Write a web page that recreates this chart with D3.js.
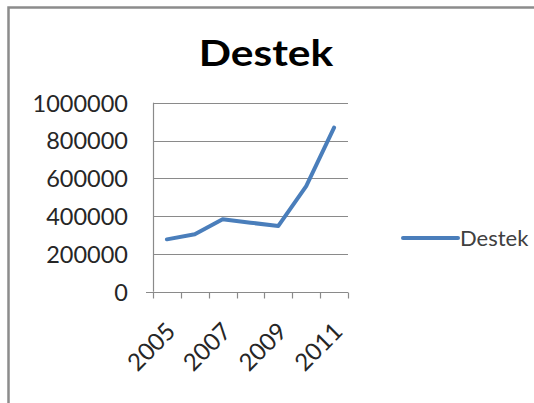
<!DOCTYPE html>
<html>
<head>
<meta charset="utf-8">
<script src="https://cdn.jsdelivr.net/npm/d3@7"></script>
<style>
  body { margin: 0; background: #fff; }
  svg { display: block; font-family: Lato, "Open Sans", sans-serif; }
</style>
</head>
<body>
<div id="chart"></div>
<script>
// Chart data
const years = ["2005", "2006", "2007", "2008", "2009", "2010", "2011"]
const destek = [277000, 304000, 383000, 365000, 348000, 559000, 868000]
const yTicks = [0, 200000, 400000, 600000, 800000, 1000000]
const xLabels = ["2005", "2007", "2009", "2011"]

const width = 534
const height = 403

const svg = d3.select("#chart")
    .append("svg")
    .attr("width", width)
    .attr("height", height)

// Frame (only top and left edges are visible)
svg.append("path")
    .attr("d", `M8.5,${height} L8.5,7.5 L${width},7.5`)
    .attr("fill", "none")
    .attr("stroke", "#8c8c8c")
    .attr("stroke-width", 2.5)

// Scales
const xScale = d3.scaleBand()
    .domain(years)
    .range([153, 348])

const yScale = d3.scaleLinear()
    .domain([0, 1000000])
    .range([291.7, 102.7])

// Gridlines
svg.append("g")
    .selectAll("line")
    .data(yTicks.filter(d => d > 0))
    .enter()
    .append("line")
    .attr("x1", 153)
    .attr("x2", 348)
    .attr("y1", d => Math.round(yScale(d)) + 0.5)
    .attr("y2", d => Math.round(yScale(d)) + 0.5)
    .attr("stroke", "#8a8a8a")
    .attr("stroke-width", 1.2)

// Y axis labels
const yAxis = d3.axisLeft(yScale)
    .tickValues(yTicks)
    .tickSize(0)
    .tickPadding(0)
    .tickFormat(d3.format("d"))

svg.append("g")
    .attr("transform", "translate(128,0)")
    .call(yAxis)
    .call(g => g.select(".domain").remove())
    .call(g => g.selectAll("text")
        .attr("font-family", "Lato, 'Open Sans', sans-serif")
        .attr("font-size", 23.5)
        .attr("fill", "#262626")
        .attr("dy", "0.36em"))

// Left axis line, bottom axis with tick marks between categories
svg.append("line")
    .attr("x1", 153.5).attr("x2", 153.5)
    .attr("y1", 102.7).attr("y2", 291.7)
    .attr("stroke", "#8a8a8a")
    .attr("stroke-width", 1.2)

const xAxis = d3.axisBottom(xScale).tickSize(0).tickFormat("")
const xg = svg.append("g")
    .attr("transform", `translate(0,${Math.round(yScale(0)) + 0.5})`)
    .call(xAxis)
xg.select(".domain").attr("stroke", "#8a8a8a").attr("stroke-width", 1.2)
    .attr("d", "M146,0H348")

// category boundary ticks
const bounds = years.map(d => xScale(d)).concat([xScale.range()[1]])
xg.selectAll("line.bound")
    .data(bounds)
    .enter()
    .append("line")
    .attr("class", "bound")
    .attr("x1", d => Math.round(d) + 0.5)
    .attr("x2", d => Math.round(d) + 0.5)
    .attr("y1", 0)
    .attr("y2", 6)
    .attr("stroke", "#8a8a8a")
    .attr("stroke-width", 1.2)

// X labels, rotated
svg.append("g")
    .selectAll("text")
    .data(xLabels)
    .enter()
    .append("text")
    .attr("transform", d => `translate(${xScale(d) + xScale.bandwidth() / 2 + 10},${333}) rotate(-45)`)
    .attr("text-anchor", "end")
    .attr("font-size", 24)
    .attr("fill", "#262626")
    .text(d => d)

// Data line
const line = d3.line()
    .x((d, i) => xScale(years[i]) + xScale.bandwidth() / 2)
    .y(d => yScale(d))

svg.append("path")
    .datum(destek)
    .attr("d", line)
    .attr("fill", "none")
    .attr("stroke", "#4a7ebb")
    .attr("stroke-width", 4)
    .attr("stroke-linejoin", "round")
    .attr("stroke-linecap", "round")

// Title (a little wider than Lato, like the original)
svg.append("text")
    .attr("transform", "translate(266,66) scale(1.18,1)")
    .attr("text-anchor", "middle")
    .attr("font-size", 36)
    .attr("font-weight", "bold")
    .attr("fill", "#000")
    .text("Destek")

// Legend
const legend = svg.append("g").attr("id", "legend")
legend.append("line")
    .attr("x1", 403).attr("x2", 458)
    .attr("y1", 238).attr("y2", 238)
    .attr("stroke", "#4a7ebb")
    .attr("stroke-width", 4)
    .attr("stroke-linecap", "round")
legend.append("text")
    .attr("x", 460)
    .attr("y", 238)
    .attr("dy", "0.36em")
    .attr("font-size", 22)
    .attr("fill", "#404040")
    .text("Destek")
</script>
</body>
</html>
